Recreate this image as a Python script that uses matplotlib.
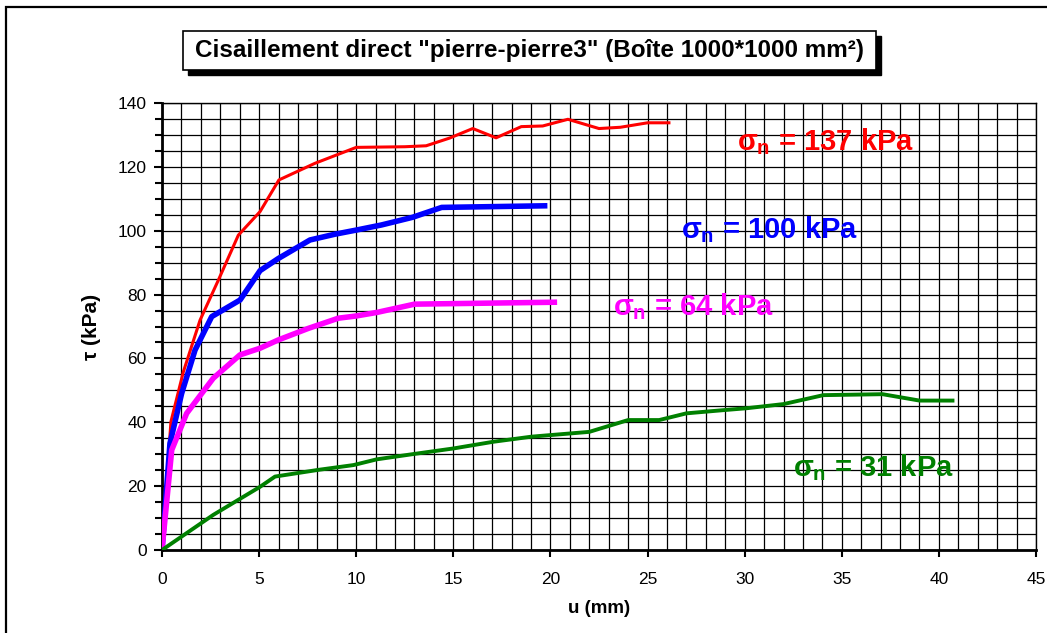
import matplotlib
matplotlib.use("Agg")
import matplotlib.pyplot as plt
from matplotlib.patches import Rectangle
from matplotlib.ticker import MultipleLocator

plt.rcParams['font.family'] = ['Liberation Sans', 'DejaVu Sans']
plt.rcParams['mathtext.fontset'] = 'custom'
plt.rcParams['mathtext.rm'] = 'Liberation Sans:bold'
plt.rcParams['mathtext.it'] = 'Liberation Sans:bold'
plt.rcParams['mathtext.bf'] = 'Liberation Sans:bold'

# sigma_n = 137 kPa
u_137 = [0, 0.46, 1.1, 1.96, 2.9, 3.93, 5.05, 6.02, 7.87, 10.0, 12.5, 13.6, 14.8, 16.0,
         17.2, 18.5, 19.6, 20.9, 22.5, 23.6, 25.0, 26.1]
t_137 = [0, 40.2, 55.8, 72.0, 84.5, 98.6, 106.0, 115.9, 121.1, 126.1, 126.3, 126.6, 129.0,
         132.0, 129.1, 132.6, 132.8, 134.9, 132.0, 132.4, 133.8, 133.8]
# sigma_n = 100 kPa
u_100 = [0, 0.41, 1.01, 1.7, 2.56, 4.02, 5.05, 5.99, 7.62, 8.9, 10.0, 11.3, 12.9, 14.4, 19.7]
t_100 = [0, 33.4, 49.0, 62.6, 73.1, 78.3, 87.5, 91.3, 97.1, 98.9, 100.2, 101.8, 104.2, 107.3, 107.8]
# sigma_n = 64 kPa
u_64 = [0, 0.5, 1.27, 2.64, 4.01, 5.05, 5.99, 7.53, 9.08, 10.0, 11.06, 13.0, 20.2]
t_64 = [0, 31.3, 42.8, 53.8, 61.1, 63.2, 65.8, 69.4, 72.6, 73.3, 74.4, 77.0, 77.6]
# sigma_n = 31 kPa
u_31 = [0, 2.64, 5.05, 5.82, 8.05, 9.86, 11.06, 13.0, 15.0, 17.06, 19.03, 22.0, 24.0, 25.6,
        27.0, 28.9, 30.1, 32.0, 34.05, 37.1, 39.0, 40.7]
t_31 = [0, 11.0, 19.8, 23.0, 25.1, 26.6, 28.4, 30.1, 31.8, 33.9, 35.5, 37.0, 40.7, 40.7,
        42.8, 43.8, 44.4, 45.7, 48.5, 48.8, 46.8, 46.8]

W, H = 1047, 633
fig = plt.figure(figsize=(W / 100, H / 100), dpi=100)
ax = fig.add_axes([162 / W, 1 - 550 / H, (1036 - 162) / W, (550 - 103) / H])

ax.plot(u_137, t_137, color='#ff0000', lw=2.2, zorder=3)
ax.plot(u_100, t_100, color='#0000ff', lw=4.0, zorder=3)
ax.plot(u_64, t_64, color='#ff00ff', lw=4.0, zorder=3)
ax.plot(u_31, t_31, color='#008000', lw=2.8, zorder=3)

ax.set_xlim(0, 45)
ax.set_ylim(0, 140)
ax.xaxis.set_major_locator(MultipleLocator(5))
ax.xaxis.set_minor_locator(MultipleLocator(1))
ax.yaxis.set_major_locator(MultipleLocator(20))
ax.yaxis.set_minor_locator(MultipleLocator(5))
ax.grid(which='both', color='black', lw=0.9)
ax.set_axisbelow(True)
ax.tick_params(axis='x', which='minor', length=0)
ax.tick_params(axis='x', which='major', length=5, width=1.5, labelsize=12.5, pad=11)
ax.tick_params(axis='y', which='major', length=6, width=1.5, labelsize=12.5, pad=5)
ax.tick_params(axis='y', which='minor', length=5, width=1.5)
for s in ax.spines.values():
    s.set_color('black')
    s.set_linewidth(1)
ax.spines['left'].set_linewidth(2)
ax.spines['bottom'].set_linewidth(2)

ax.set_xlabel('u (mm)', fontsize=13.5, fontweight='bold', labelpad=9)
ax.set_ylabel('τ (kPa)', fontsize=15, fontweight='bold', labelpad=12)

lab_kw = dict(fontsize=21, fontweight='bold', ha='left', va='center', zorder=4)
ax.text(29.6, 127.8, r'$\sigma_n$ = 137 kPa', color='#ff0000', **lab_kw)
ax.text(26.7, 100.2, r'$\sigma_n$ = 100 kPa', color='#0000ff', **lab_kw)
ax.text(23.2, 76.1, r'$\sigma_n$ = 64 kPa', color='#ff00ff', **lab_kw)
ax.text(32.5, 25.7, r'$\sigma_n$ = 31 kPa', color='#008000', **lab_kw)

# title box with shadow
bx0, bx1, by0, by1 = 183, 876, 31, 70
fig.patches.append(Rectangle(((bx0 + 5) / W, 1 - (by1 + 5) / H), (bx1 - bx0) / W, (by1 - by0) / H,
                             transform=fig.transFigure, fc='black', ec='black', zorder=1))
fig.patches.append(Rectangle((bx0 / W, 1 - by1 / H), (bx1 - bx0) / W, (by1 - by0) / H,
                             transform=fig.transFigure, fc='white', ec='black', lw=1.2, zorder=2))
fig.text((bx0 + bx1) / 2 / W, 1 - (by0 + by1) / 2 / H,
         'Cisaillement direct "pierre-pierre3" (Boîte 1000*1000 mm²)',
         ha='center', va='center', fontsize=17.5, fontweight='bold', zorder=3)

# outer frame
fig.patches.append(Rectangle((6 / W, -0.05), 1.1, 1 - 7 / H + 0.05, transform=fig.transFigure,
                             fill=False, ec='black', lw=1.6, zorder=0))

fig.savefig('out.png', dpi=100)
